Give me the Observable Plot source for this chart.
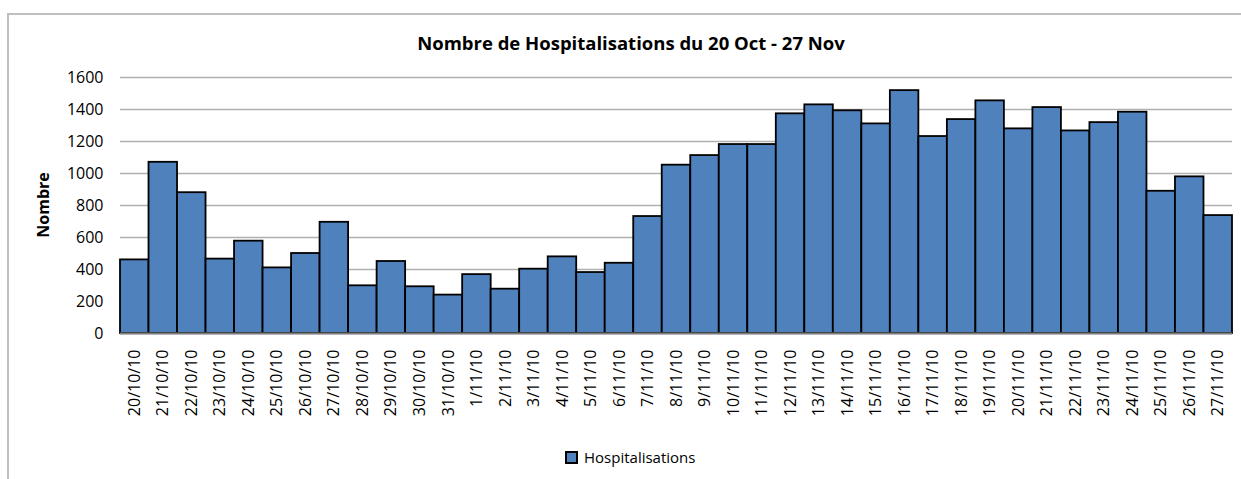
<!DOCTYPE html>
<html>
<head>
<meta charset="utf-8">
<script src="https://cdn.jsdelivr.net/npm/d3@7"></script>
<script src="https://cdn.jsdelivr.net/npm/@observablehq/plot@0.6"></script>
<style>
  body { margin: 0; background: #fff; }
  #wrap { position: relative; width: 1241px; height: 479px; overflow: hidden; font-family: "Open Sans", sans-serif; }
  #border { position: absolute; left: 7px; top: 13px; width: 1400px; height: 700px; border: 2px solid #bfbfbf; box-sizing: border-box; }
  #title { position: absolute; left: 0; width: 1262px; top: 30px; text-align: center; font-size: 18.5px; font-weight: bold; color: #000; line-height: 26px; }
  #ylabel { position: absolute; left: 43px; top: 205px; transform: translate(-50%, -50%) rotate(-90deg); font-size: 16px; font-weight: bold; color: #000; white-space: nowrap; }
  #chart { position: absolute; left: 0; top: 60px; }
  #legend { position: absolute; left: 565px; top: 447px; font-size: 15px; color: #000; display: flex; align-items: center; white-space: nowrap; }
  #legend .sw { width: 9px; height: 9px; background: #4F81BD; border: 2px solid #000; margin-right: 6px; }
</style>
</head>
<body>
<div id="wrap">
  <div id="border"></div>
  <div id="title">Nombre de Hospitalisations du 20 Oct - 27 Nov</div>
  <div id="ylabel">Nombre</div>
  <div id="chart"></div>
  <div id="legend"><span class="sw"></span><span>Hospitalisations</span></div>
</div>
<script>
const dates = [
  "20/10/10","21/10/10","22/10/10","23/10/10","24/10/10","25/10/10","26/10/10","27/10/10",
  "28/10/10","29/10/10","30/10/10","31/10/10","1/11/10","2/11/10","3/11/10","4/11/10",
  "5/11/10","6/11/10","7/11/10","8/11/10","9/11/10","10/11/10","11/11/10","12/11/10",
  "13/11/10","14/11/10","15/11/10","16/11/10","17/11/10","18/11/10","19/11/10","20/11/10",
  "21/11/10","22/11/10","23/11/10","24/11/10","25/11/10","26/11/10","27/11/10"
];
const hospitalisations = [
  460, 1070, 880, 465, 577, 410, 500, 695,
  298, 450, 292, 240, 368, 277, 402, 479,
  381, 439, 731, 1052, 1112, 1181, 1181, 1373,
  1429, 1392, 1310, 1518, 1231, 1337, 1454, 1279,
  1412, 1266, 1318, 1383, 889, 979, 737
];
const yTicks = [0, 200, 400, 600, 800, 1000, 1200, 1400, 1600];

const data = dates.map((d, i) => ({date: d, value: hospitalisations[i]}));

const chart = Plot.plot({
  width: 1241,
  height: 385,
  marginLeft: 120,
  marginRight: 9,
  marginTop: 17,
  marginBottom: 112,
  style: {fontFamily: "Open Sans, sans-serif", fontSize: "16px", color: "#000", background: "transparent"},
  x: {domain: dates, padding: 0, round: false, label: null},
  y: {domain: [0, 1600], label: null},
  marks: [
    Plot.gridY(yTicks, {stroke: "#b0b0b0", strokeOpacity: 1, strokeWidth: 1.5}),
    Plot.barY(data, {x: "date", y: "value", fill: "#4F81BD", stroke: "#000", strokeWidth: 1.8}),
    Plot.ruleY([0], {stroke: "#7f7f7f", strokeWidth: 2}),
    Plot.axisY({ticks: yTicks, tickFormat: d => String(d), tickSize: 0, tickPadding: 17, label: null, fontSize: 16}),
    Plot.axisX({tickSize: 0, tickPadding: 16, tickRotate: -90, label: null, fontSize: 16})
  ]
});
document.getElementById("chart").appendChild(chart);
</script>
</body>
</html>
